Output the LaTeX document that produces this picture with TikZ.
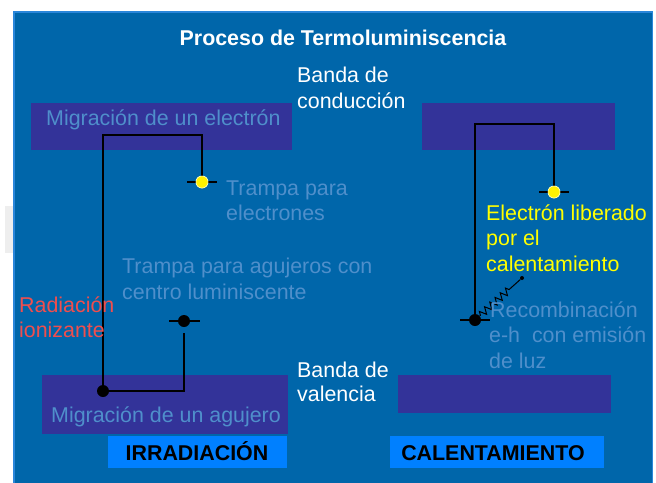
\documentclass[tikz,border=0pt]{standalone}
\usepackage{fontspec}
\setmainfont{Liberation Sans}
\usetikzlibrary{decorations.pathmorphing}
\definecolor{panel}{HTML}{0066AA}
\definecolor{edgeblue}{HTML}{2A86DA}
\definecolor{band}{HTML}{333399}
\definecolor{tagblue}{HTML}{0080FF}
\definecolor{faded}{HTML}{4F8FCB}
\definecolor{redtxt}{HTML}{F04E4E}
\definecolor{yeltxt}{HTML}{FFFF00}
\definecolor{stripgray}{HTML}{EEEEEE}
\begin{document}
\begin{tikzpicture}[x=1pt,y=-1pt,
  txt/.style={anchor=base west,inner sep=0pt,font=\fontsize{21.4}{25}\selectfont},
  ctxt/.style={anchor=base,inner sep=0pt,font=\fontsize{21.4}{25}\selectfont\bfseries},
  wire/.style={draw=black,line width=1.4pt},
  tick/.style={draw=black,line width=1.2pt},
  ydot/.style={circle,fill=yellow,draw=white!70!yellow,line width=0.6pt,inner sep=0pt,minimum size=12pt},
  bdot/.style={circle,fill=black,inner sep=0pt,minimum size=12pt},
  sdot/.style={circle,fill=black,inner sep=0pt,minimum size=4pt}]
\useasboundingbox (0,0) rectangle (656,482);
% background
\fill[stripgray] (5,206) rectangle (13,253);
\fill[panel] (13,11) rectangle (653,483);
\draw[edgeblue,line width=1.5pt] (13.75,483) -- (13.75,11.75) -- (652.25,11.75) -- (652.25,483);
% bands
\fill[band] (31,103) rectangle (292,150);
\fill[band] (422,103) rectangle (615,150);
\fill[band] (42,375) rectangle (288,434);
\fill[band] (398,375) rectangle (611,413);
% tags
\fill[tagblue] (108,436) rectangle (287,468);
\fill[tagblue] (390,436) rectangle (604,468);
% dots and corner points
\node[bdot] (hd) at (103,391) {};
\node[ydot] (ye) at (202,182) {};
\node[bdot] (ht) at (184,321) {};
\node[ydot] (ye2) at (554,192) {};
\node[bdot] (rd) at (475,320) {};
\node[sdot] (zend) at (522,278) {};
\coordinate (c1) at (103,135);
\coordinate (c2) at (202,135);
\coordinate (c3) at (475,124);
\coordinate (c4) at (554,124);
% ticks (traps)
\draw[tick] ([xshift=-15pt]ye.center) -- ([xshift=15pt]ye.center);
\draw[tick] ([xshift=-15pt]ht.center) -- ([xshift=16pt]ht.center);
\draw[tick] ([xshift=-15pt]ye2.center) -- ([xshift=15pt]ye2.center);
\draw[tick] ([xshift=-15pt]rd.center) -- ([xshift=15pt]rd.center);
% wires
\draw[wire] (hd.center) -- (c1) -- (c2) -- (ye.north);
\draw[wire] ([yshift=-6pt]ht.south) -- (ht.south |- hd) -- (hd.center);
\draw[wire] (rd.center) -- (c3) -- (c4) -- (ye2.north);
\draw[black,line width=1pt,decorate,decoration={zigzag,amplitude=3.5pt,segment length=7pt,pre length=1pt,post length=12pt}] (rd) -- (zend);
\node[ydot] at (ye) {};
\node[ydot] at (ye2) {};
% texts
\node[ctxt,text=white] (title) at (343,45) {Proceso de Termoluminiscencia};
\node[txt,text=white] (bc1) at (297,82) {Banda de};
\node[txt,text=white] (bc2) at (297,108) {conducción};
\node[txt,text=faded] (mige) at (46,125) {Migración de un electrón};
\node[txt,text=faded] (te1) at (226,195) {Trampa para};
\node[txt,text=faded] (te2) at (226,220) {electrones};
\node[txt,text=yeltxt] (el1) at (486,220) {Electrón liberado};
\node[txt,text=yeltxt] (el2) at (486,245.5) {por el};
\node[txt,text=yeltxt] (el3) at (486,271) {calentamiento};
\node[txt,text=faded] (th1) at (122,273) {Trampa para agujeros con};
\node[txt,text=faded] (th2) at (122,299) {centro luminiscente};
\node[txt,text=redtxt] (ri1) at (19,312) {Radiación};
\node[txt,text=redtxt] (ri2) at (19,337) {ionizante};
\node[txt,text=faded] (rc1) at (490,317) {Recombinación};
\node[txt,text=faded] (rc2) at (489,342) {e-h\ \ con emisión};
\node[txt,text=faded] (rc3) at (489,368) {de luz};
\node[txt,text=white] (bv1) at (297,377) {Banda de};
\node[txt,text=white] (bv2) at (297,401) {valencia};
\node[txt,text=faded] (migh) at (51,422) {Migración de un agujero};
\node[ctxt,text=black] (irr) at (197,460) {IRRADIACIÓN};
\node[ctxt,text=black] (cal) at (493,460) {CALENTAMIENTO};
\end{tikzpicture}
\end{document}
